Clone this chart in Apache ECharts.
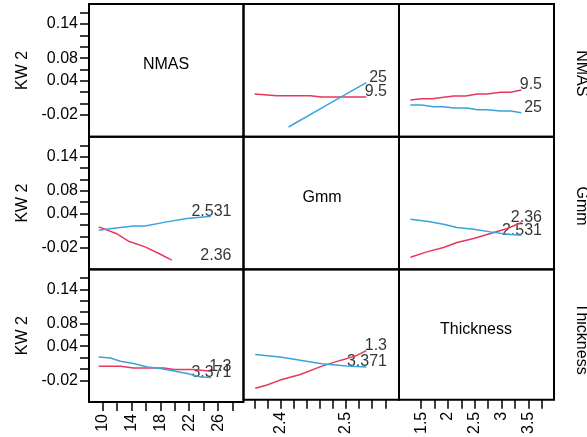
<!DOCTYPE html>
<html>
<head>
<meta charset="utf-8">
<script src="https://cdn.jsdelivr.net/npm/echarts@6/dist/echarts.min.js"></script>
<style>
  html, body { margin: 0; padding: 0; background: #fff; }
  #chart { width: 587px; height: 437px; }
</style>
</head>
<body>
<div id="chart"></div>
<script>
// Factor names (row/column order of the interaction matrix)
const factors = ['NMAS', 'Gmm', 'Thickness'];
const yName = 'KW 2';

// Shared response axis
const yMin = -0.0582, yMax = 0.1752;
const yTicks = [-0.02, 0, 0.02, 0.04, 0.06, 0.08, 0.10, 0.12, 0.14, 0.16];
const yLabels = [-0.02, 0.04, 0.08, 0.14];

// Factor axes (one per column)
const nmasRange = [8.15, 29.5];
const nmasTicks = [10, 12, 14, 16, 18, 20, 22, 24, 26, 28];
const nmasLabels = [10, 14, 18, 22, 26];
const gmmRange = [2.343, 2.581];
const gmmTicks = [2.36, 2.38, 2.40, 2.42, 2.44, 2.46, 2.48, 2.50, 2.52, 2.54, 2.56];
const gmmLabels = [2.4, 2.5];
const thickRange = [1.087, 3.98];
const thickTicks = [1.5, 1.75, 2, 2.25, 2.5, 2.75, 3, 3.25, 3.5, 3.75];
const thickLabels = [1.5, 2, 2.5, 3, 3.5];

// Level names
const nmasLevels = ['9.5', '25'];
const gmmLevels = ['2.36', '2.531'];
const thickLevels = ['1.3', '3.371'];

// NMAS traces against Gmm
const nmasLow_vsGmm = [[2.36, 0.0169], [2.394, 0.0139], [2.445, 0.0139], [2.463, 0.0117], [2.531, 0.0117]];
const nmasHigh_vsGmm = [[2.412, -0.0411], [2.471, -0.0022], [2.531, 0.0368]];
// NMAS traces against Thickness
const nmasLow_vsThick = [[1.3, 0.0064], [1.51, 0.0087], [1.70, 0.0087], [2.11, 0.0134], [2.33, 0.0134],
  [2.55, 0.0169], [2.73, 0.0169], [2.98, 0.0199], [3.17, 0.0199], [3.371, 0.0240]];
const nmasHigh_vsThick = [[1.3, -0.0024], [1.51, -0.0024], [1.73, -0.0054], [1.92, -0.0054], [2.11, -0.0077],
  [2.36, -0.0077], [2.55, -0.0107], [2.73, -0.0107], [2.98, -0.0130], [3.17, -0.0130], [3.371, -0.0160]];
// Gmm traces against NMAS
const gmmLow_vsNmas = [[9.5, 0.0166], [11.9, 0.0050], [13.6, -0.0086], [15.9, -0.0186], [17.8, -0.0302], [19.6, -0.0420]];
const gmmHigh_vsNmas = [[9.5, 0.0108], [11.0, 0.0131], [14.3, 0.0183], [15.9, 0.0183], [18.9, 0.0254],
  [21.7, 0.0313], [25, 0.0354]];
// Gmm traces against Thickness
const gmmLow_vsThick = [[1.3, -0.0367], [1.607, -0.0274], [1.918, -0.0196], [2.170, -0.0109], [2.481, -0.0038],
  [2.795, 0.0050], [3.108, 0.0138], [3.371, 0.0243]];
const gmmHigh_vsThick = [[1.3, 0.0301], [1.607, 0.0266], [1.918, 0.0213], [2.170, 0.0155], [2.481, 0.0125],
  [2.795, 0.0078], [3.108, 0.0037], [3.371, 0.0020]];
// Thickness traces against NMAS
const thickLow_vsNmas = [[9.5, 0.0046], [12.5, 0.0046], [14.3, 0.0016], [18.5, 0.0016], [19.9, -0.0012],
  [22.6, -0.0012], [25, -0.0042]];
const thickHigh_vsNmas = [[9.5, 0.0210], [11.1, 0.0192], [12.5, 0.0134], [14.3, 0.0094], [16.2, 0.0034],
  [18.0, 0.0006], [19.9, -0.0036], [21.7, -0.0082], [23.6, -0.0142], [25, -0.0153]];
// Thickness traces against Gmm
const thickLow_vsGmm = [[2.361, -0.0376], [2.379, -0.0318], [2.399, -0.0230], [2.430, -0.0130], [2.460, 0.0006],
  [2.491, 0.0122], [2.514, 0.0199], [2.531, 0.0298]];
const thickHigh_vsGmm = [[2.361, 0.0227], [2.399, 0.0182], [2.463, 0.0064], [2.501, 0.0023], [2.531, 0.0006]];

const RED = '#e8375e';
const BLUE = '#3aa3dd';
const FONT = '"Liberation Sans", Arial, sans-serif';
const INK = '#000';

const colLeft = [89, 243.5, 399];
const colWidth = [154.5, 155.5, 155];
const rowTop = [4, 136.7, 269.3];
const rowHeight = 132.7;

const colAxes = [
  { range: nmasRange, ticks: nmasTicks, labels: nmasLabels },
  { range: gmmRange, ticks: gmmTicks, labels: gmmLabels },
  { range: thickRange, ticks: thickTicks, labels: thickLabels }
];

// Off-diagonal panels: [row, col, low trace, high trace, level names]
const panels = [
  [0, 1, nmasLow_vsGmm, nmasHigh_vsGmm, nmasLevels],
  [0, 2, nmasLow_vsThick, nmasHigh_vsThick, nmasLevels],
  [1, 0, gmmLow_vsNmas, gmmHigh_vsNmas, gmmLevels],
  [1, 2, gmmLow_vsThick, gmmHigh_vsThick, gmmLevels],
  [2, 0, thickLow_vsNmas, thickHigh_vsNmas, thickLevels],
  [2, 1, thickLow_vsGmm, thickHigh_vsGmm, thickLevels]
];

const fmt = v => String(+(+v).toFixed(2));

const grid = [], xAxis = [], yAxis = [], series = [];
for (let r = 0; r < 3; r++) {
  for (let c = 0; c < 3; c++) {
    const k = r * 3 + c;
    grid.push({
      left: colLeft[c], top: rowTop[r], width: colWidth[c], height: rowHeight,
      show: true, borderColor: '#000', borderWidth: 2, backgroundColor: 'transparent'
    });
    const ca = colAxes[c];
    const bottom = r === 2;
    xAxis.push({
      type: 'value', gridIndex: k, min: ca.range[0], max: ca.range[1], position: 'bottom',
      splitLine: { show: false },
      axisLine: { show: false, onZero: false },
      axisTick: { show: bottom, customValues: ca.ticks, length: 9, lineStyle: { color: '#000', width: 1.5 } },
      axisLabel: {
        show: bottom, customValues: ca.labels, rotate: 90, margin: 12,
        formatter: fmt, color: INK, fontSize: 16, fontFamily: FONT
      }
    });
    const leftCol = c === 0;
    yAxis.push({
      type: 'value', gridIndex: k, min: yMin, max: yMax, position: 'left',
      name: leftCol ? yName : '', nameLocation: 'middle', nameRotate: 90, nameGap: 58,
      nameTextStyle: { color: INK, fontSize: 16, fontFamily: FONT },
      splitLine: { show: false },
      axisLine: { show: false, onZero: false },
      axisTick: { show: leftCol, customValues: yTicks, length: 9, lineStyle: { color: '#000', width: 1.5 } },
      axisLabel: {
        show: leftCol, customValues: yLabels, margin: 11,
        formatter: fmt, color: INK, fontSize: 16, fontFamily: FONT
      }
    });
  }
}

panels.forEach(([r, c, low, high, levels]) => {
  const k = r * 3 + c;
  const xEnd = colAxes[c].range[1];
  [[low, RED], [high, BLUE]].forEach(([data, color]) => {
    series.push({
      type: 'line', xAxisIndex: k, yAxisIndex: k, data: data,
      showSymbol: false, symbol: 'none', silent: true,
      lineStyle: { color: color, width: 1.5 }
    });
  });
  // Level labels, right-aligned near the panel edge at each trace's final height
  series.push({
    type: 'scatter', xAxisIndex: k, yAxisIndex: k, clip: false, symbolSize: 0, silent: true,
    data: [
      { value: [xEnd, low[low.length - 1][1]], name: levels[0] },
      { value: [xEnd, high[high.length - 1][1]], name: levels[1] }
    ],
    label: {
      show: true, position: 'left', distance: 12, offset: [0, -5],
      formatter: p => p.name, color: INK, fontSize: 16, fontFamily: FONT
    }
  });
});

const graphic = [];
// Factor names on the diagonal
const diagCenters = [[166, 65], [322, 198], [476, 330]];
factors.forEach((f, i) => {
  graphic.push({
    type: 'text', x: diagCenters[i][0], y: diagCenters[i][1], silent: true,
    style: { text: f, fill: INK, font: '16px ' + FONT, textAlign: 'center', textVerticalAlign: 'middle' }
  });
  // Row titles on the right margin
  graphic.push({
    type: 'text', x: 581, y: rowTop[i] + rowHeight / 2 + 3, rotation: -Math.PI / 2, silent: true,
    style: { text: f, fill: INK, font: '16px ' + FONT, textAlign: 'center', textVerticalAlign: 'middle' }
  });
});

const chart = echarts.init(document.getElementById('chart'), null, { renderer: 'canvas' });
chart.setOption({
  animation: false,
  backgroundColor: '#fff',
  grid, xAxis, yAxis, series, graphic
});
</script>
</body>
</html>
